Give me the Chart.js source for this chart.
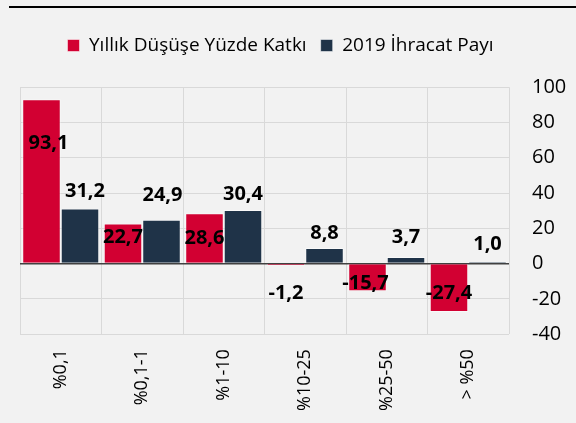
<!DOCTYPE html>
<html>
<head>
<meta charset="utf-8">
<script src="https://cdn.jsdelivr.net/npm/chart.js@4"></script>
<style>
  html, body { margin: 0; padding: 0; background: #f2f2f2; }
  #wrap { position: relative; width: 576px; height: 423px; }
  #topLine { position: absolute; left: 9px; right: 0; top: 6px; height: 0; border-top: 2px solid #000; }
</style>
</head>
<body>
<div id="wrap">
  <div id="topLine"></div>
  <canvas id="chart" width="576" height="423"></canvas>
</div>
<script>
const categories = ['%0,1', '%0,1-1', '%1-10', '%10-25', '%25-50', '> %50']
const yillikKatki = [93.1, 22.7, 28.6, -1.2, -15.7, -27.4]
const ihracatPayi = [31.2, 24.9, 30.4, 8.8, 3.7, 1.0]
const yTicks = [-40, -20, 0, 20, 40, 60, 80, 100]

const FONT = "'Open Sans', Arial, sans-serif"

// label placement relative to bar end, like the hand-moved labels in the original
const labelPlugin = {
  id: 'barLabels',
  afterLayout (chart, args, opts) {
    // legend sits a little left of the canvas centre
    if (chart.legend) {
      chart.legend.left += opts.legendShift
      chart.legend.right += opts.legendShift
    }
  },
  afterDatasetsDraw (chart, args, opts) {
    const ctx = chart.ctx
    ctx.save()
    ctx.font = 'bold 20px ' + FONT
    ctx.fillStyle = '#000'
    ctx.textAlign = 'center'
    ctx.textBaseline = 'middle'
    chart.data.datasets.forEach((ds, di) => {
      const meta = chart.getDatasetMeta(di)
      const shift = opts.shifts[di]
      meta.data.forEach((bar, i) => {
        const txt = ds.data[i].toFixed(1).replace('.', ',')
        ctx.fillText(txt, bar.x + shift.dx[i], bar.y + shift.dy[i])
      })
    })
    ctx.restore()
  }
}

new Chart(document.getElementById('chart'), {
  type: 'bar',
  data: {
    labels: categories,
    datasets: [
      {
        label: 'Yıllık Düşüşe Yüzde Katkı',
        data: yillikKatki,
        backgroundColor: '#D20032',
        borderColor: 'rgba(255,255,255,0.5)',
        borderWidth: 1,
        barPercentage: 1,
        categoryPercentage: 0.945
      },
      {
        label: '2019 İhracat Payı',
        data: ihracatPayi,
        backgroundColor: '#1F3348',
        borderColor: 'rgba(255,255,255,0.5)',
        borderWidth: 1,
        barPercentage: 1,
        categoryPercentage: 0.945
      }
    ]
  },
  options: {
    responsive: false,
    animation: false,
    layout: { padding: { left: 20, right: 9, top: 22, bottom: -3 } },
    plugins: {
      legend: {
        position: 'top',
        labels: {
          boxWidth: 12,
          boxHeight: 12,
          padding: 14,
          color: '#000',
          font: { family: FONT, size: 19 }
        }
      },
      subtitle: {
        // spacer between legend and plot
        display: true,
        text: '',
        weight: 500,
        font: { size: 1 },
        padding: { top: 0, bottom: 21 }
      },
      tooltip: { enabled: false },
      barLabels: {
        legendShift: -13,
        shifts: [
          { dx: [7, 0, 0, 0, -2, 0], dy: [44, 14, 25, 28, -8, -19] },
          { dx: [5, 1, 0, 0, 0, 0], dy: [-17, -24, -16, -15, -20, -18] }
        ]
      }
    },
    scales: {
      x: {
        offset: true,
        grid: { offset: true, color: '#d9d9d9', drawTicks: false },
        border: { display: false },
        afterFit: (scale) => { scale.paddingLeft = 0; scale.paddingRight = 0 },
        ticks: {
          minRotation: 90,
          maxRotation: 90,
          padding: 15,
          color: '#000',
          font: { family: FONT, size: 18 }
        }
      },
      y: {
        position: 'right',
        min: -40,
        max: 100,
        afterBuildTicks: (scale) => { scale.ticks = yTicks.map(v => ({ value: v })) },
        afterFit: (scale) => { scale.width = 58 },
        grid: {
          drawTicks: false,
          color: (c) => c.tick && c.tick.value === 0 ? '#404040' : '#d9d9d9',
          lineWidth: (c) => c.tick && c.tick.value === 0 ? 1.5 : 1
        },
        border: { display: false },
        ticks: {
          padding: 23,
          color: '#000',
          font: { family: FONT, size: 20 }
        }
      }
    }
  },
  plugins: [labelPlugin]
})
</script>
</body>
</html>
